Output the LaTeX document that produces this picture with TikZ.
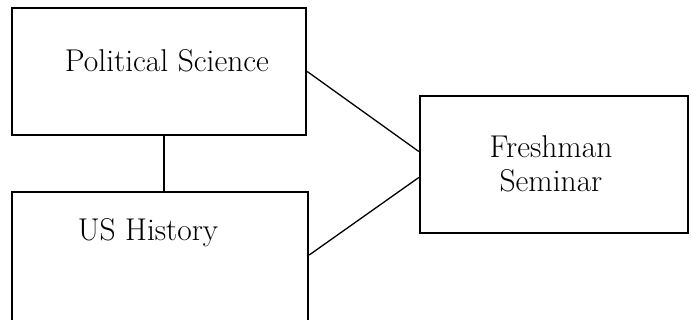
\documentclass[tikz,border=0pt]{standalone}
\usepackage{tikz}
\usetikzlibrary{positioning, calc}

\begin{document}
\begin{tikzpicture}[x=1pt, y=-1pt,
    coursebox/.style={draw=black, line width=2.4pt, rectangle, inner sep=0pt},
    coursetext/.style={font=\fontsize{31.5}{34}\selectfont, inner sep=0pt, align=center},
    link/.style={draw=black, line width=1.3pt}]
  \clip (0, 0) rectangle (691, 320);
  % course boxes
  \node[coursebox, minimum width=294pt, minimum height=127pt] (polsci) at (159, 71.5) {};
  \node[coursebox, minimum width=296pt, minimum height=150pt] (ushist) at (160, 267) {};
  \node[coursebox, minimum width=268pt, minimum height=137pt] (seminar) at (554, 164.5) {};
  % labels
  \node[coursetext, anchor=base] (polscitext) at ([xshift=8pt, yshift=-65pt]polsci.north) {Political Science};
  \node[coursetext, anchor=base] (ushisttext) at ([xshift=-12pt, yshift=-50pt]ushist.north) {US History};
  \node[coursetext, anchor=center] (seminartext) at ([xshift=-3pt, yshift=1pt]seminar.center) {Freshman\\Seminar};
  % connectors
  \draw[link, line width=2.4pt] ([xshift=5pt]polsci.south) -- ([xshift=5pt]polsci.south |- ushist.north);
  \draw[link] (polsci.east) -- ([yshift=13pt]seminar.west);
  \draw[link] ([yshift=12pt]ushist.east) -- ([yshift=-13pt]seminar.west);
\end{tikzpicture}
\end{document}
